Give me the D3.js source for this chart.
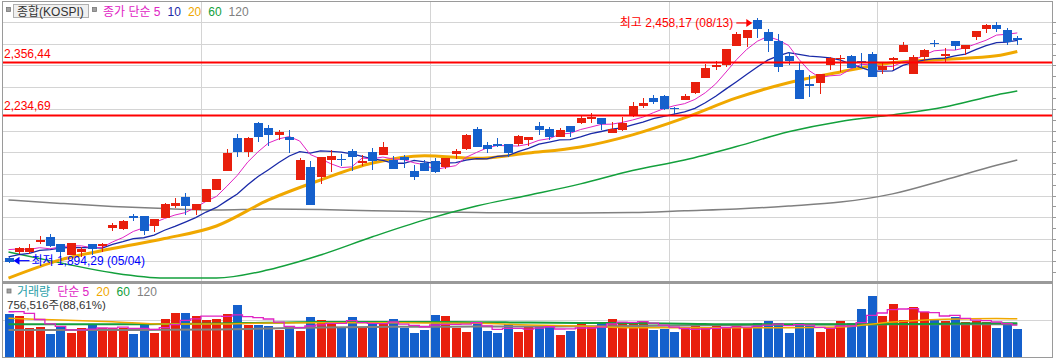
<!DOCTYPE html>
<html>
<head>
<meta charset="utf-8">
<script src="https://cdn.jsdelivr.net/npm/d3@7"></script>
<style>
body { margin: 0; background: #fff; }
svg { display: block; font-family: "Liberation Sans", "Noto Sans CJK KR", sans-serif; }
</style>
</head>
<body>
<div id="chart"></div>
<script>
// ---------------- 데이터 ----------------
var opens  = [1906,1919,1921,1943,1955,1938,1913,1919,1938,1933, 1976,1972,2004,2003,1980,1999,2026,2046,2017,2036,
              2063,2107,2183,2151,2218,2205,2189,2184,2086,2117, 2092,2132,2135,2153,2126,2150,2144,2132,2139,2107,
              2126,2130,2115,2146,2157,2203,2166,2170,2170,2170, 2177,2210,2203,2186,2210,2218,2227,2228,2195,2201,
              2235,2256,2276,2280,2252,2270,2287,2322,2347,2351, 2395,2414,2454,2428,2407,2372,2339,2306,2309,2351,
              2364,2372,2361,2376,2339,2362,2382,2330,2369,2402, 2372,2406,2388,2416,2433,2443,2432,2413];
var highs  = [1908,1932,1938,1957,1962,1939,1941,1932,1939,1940, 1986,1994,2007,2004,1997,2032,2044,2055,2031,2066,
              2089,2157,2192,2184,2219,2213,2201,2201,2136,2130, 2139,2155,2146,2157,2144,2159,2173,2142,2144,2121,
              2132,2137,2136,2157,2192,2209,2174,2182,2170,2190, 2185,2219,2209,2205,2210,2236,2241,2229,2219,2230,
              2266,2275,2282,2281,2253,2283,2312,2353,2360,2388, 2428,2432,2458.17,2435,2422,2382,2358,2328,2331,2370,
              2374,2374,2378,2381,2355,2370,2403,2374,2388,2409, 2389,2406,2397,2429,2445,2449,2436,2417];
var lows   = [1894.29,1915,1915,1938,1932,1908,1912,1909,1913,1921, 1969,1970,1992,1959,1967,1998,2021,2005,2005,2035,
              2062,2106,2140,2139,2174,2165,2178,2148,2085,2028, 2077,2105,2118,2107,2118,2109,2143,2111,2114,2086,
              2107,2101,2111,2135,2156,2163,2149,2161,2140,2164, 2164,2190,2178,2185,2184,2215,2217,2201,2195,2200,
              2232,2251,2261,2248,2236,2270,2284,2322,2339,2347, 2395,2393,2413,2382,2335,2351,2272,2278,2284,2339,
              2335,2343,2343,2324,2330,2339,2381,2330,2360,2393, 2355,2385,2374,2408,2424,2428,2398,2396];
var closes = [1897,1929,1929,1948,1934,1920,1941,1928,1927,1938, 1982,1992,1998,1969,1996,2031,2032,2026,2030,2065,
              2088,2149,2151,2183,2184,2189,2197,2177,2132,2029, 2138,2141,2133,2140,2130,2130,2161,2111,2132,2094,
              2107,2105,2136,2153,2190,2163,2157,2165,2149,2187, 2185,2201,2184,2201,2197,2228,2230,2215,2203,2217,
              2256,2263,2266,2249,2251,2280,2312,2343,2351,2388, 2422,2432,2435,2407,2347,2359,2272,2303,2330,2366,
              2368,2343,2355,2324,2349,2366,2397,2370,2385,2400, 2376,2395,2397,2429,2443,2435,2405,2412];
// 거래량 (천주)
var volumes = [1162000,1108000,784000,811000,622000,811000,649000,784000,892000,784000,
               784000,784000,622000,892000,649000,1027000,1189000,1189000,1108000,1000000,
               1027000,1162000,1405000,865000,865000,838000,730000,838000,703000,1081000,
               1000000,928000,820000,1081000,820000,901000,901000,1027000,784000,649000,
               730000,1135000,1108000,784000,676000,928000,703000,649000,901000,676000,
               838000,838000,838000,595000,703000,946000,838000,946000,1027000,946000,
               919000,946000,730000,757000,676000,745000,838000,784000,838000,784000,
               838000,784000,919000,973000,919000,649000,919000,838000,676000,784000,
               973000,919000,1297000,1649000,1108000,1432000,1000000,1351000,1216000,1000000,
               973000,1081000,946000,973000,946000,784000,853763,756516];

// 화면 이전 구간 (추정)
var prevCloses  = [1880,1898,1880,1914,1889,1922,1934,1928,1947];
var prevVolumes = [1100000,1000000,1650000,1200000];

// 장기 이동평균 (그림에서 읽은 값, maIdx 위치)
var maIdx   = [0,5,10,15,20,25,30,35,40,45,50,55,60,65,70,75,80,85,90,95,97];
var ma20    = [1860,1902,1928,1951,1980,2040,2086,2125,2142,2136,2148,2162,2190,2229,2275,2310,2335,2356,2364,2372,2382];
var ma60    = [1920,1895,1872,1860,1860,1879,1913,1955,1994,2026,2051,2077,2108,2132,2163,2197,2221,2236,2254,2282,2291];
var ma120   = [2040,2032,2025,2020,2017,2019,2018,2015,2013,2011,2010,2010,2011,2015,2019,2026,2035,2054,2086,2120,2132];
var volMa20 = [1046000,1000000,954000,892000,892000,919000,927000,927000,919000,911000,865000,838000,792000,792000,792000,792000,810000,946000,1019000,1043000,1036000];
var volMa60 = [884000,884000,884000,890000,905000,925000,946000,946000,946000,940000,932000,920000,911000,900000,884000,884000,884000,890000,900000,911000,911000];
var volMa120= [730000,730000,730000,735000,743000,770000,797000,810000,819000,822000,824000,830000,838000,850000,865000,872000,878000,882000,884000,884000,884000];

var refLines = [2356.44, 2234.69];
var monthStartIdx = [19, 41, 64, 84];
var lowDate = "05/04", highDate = "08/13";
var priceLegend = ["종가 단순 5", "10", "20", "60", "120"];
var volLegend = ["단순 5", "20", "60", "120"];

// ---------------- 설정 ----------------
var W = 1056, H = 359;
var left = 2.5, right = 1052.5;
var pTop = 1.5, pBot = 282, vTop = 283, vBot = 357.5;
var upColor = "#e81f0d", downColor = "#1560cc";
var priceColors = ["#e024c4", "#1a2aa8", "#f0a800", "#13a03c", "#808080"];
var volColors = ["#e024c4", "#f0a800", "#13a03c", "#808080"];

var fmt = d3.formatLocale({decimal: ",", thousands: ",", grouping: [3], currency: ["", ""]});
var fmtPrice = fmt.format(",.2f");
var fmtVol = fmt.format(",d");

var svg = d3.select("#chart").append("svg").attr("width", W).attr("height", H);

var x = d3.scaleLinear().domain([0, closes.length - 1]).range([8.5, 1017.3]);
var yP = d3.scaleLinear().domain([1900, 2450]).range([260.7, 22]);
var yV = d3.scaleLinear().domain([0, 2000000]).range([357, 283]);

function movingAvg(vals, prev, n) {
  var all = prev.concat(vals);
  return vals.map(function(v, i) {
    var j = i + prev.length;
    return d3.mean(all.slice(j - n + 1, j + 1));
  });
}
var ma5 = movingAvg(closes, prevCloses, 5);
var ma10 = movingAvg(closes, prevCloses, 10);
var volMa5 = movingAvg(volumes, prevVolumes, 5);

var candles = d3.range(closes.length).map(function(i) {
  return {i: i, o: opens[i], h: highs[i], l: lows[i], c: closes[i], v: volumes[i], up: closes[i] >= opens[i]};
});

// clip
var defs = svg.append("defs");
defs.append("clipPath").attr("id", "clipP").append("rect")
  .attr("x", left).attr("y", pTop).attr("width", right - left).attr("height", pBot - pTop);
defs.append("clipPath").attr("id", "clipV").append("rect")
  .attr("x", left).attr("y", vTop).attr("width", right - left).attr("height", vBot - vTop);

// ---------------- 격자 ----------------
var grid = svg.append("g").attr("shape-rendering", "crispEdges");
grid.selectAll(".hp").data(d3.range(1900, 2451, 50)).enter().append("line")
  .attr("x1", left).attr("x2", right)
  .attr("y1", function(d) { return Math.round(yP(d)) + 0.5; })
  .attr("y2", function(d) { return Math.round(yP(d)) + 0.5; })
  .attr("stroke", "#d4d4d4");
grid.selectAll(".hv").data([1000000]).enter().append("line")
  .attr("x1", left).attr("x2", right)
  .attr("y1", function(d) { return Math.round(yV(d)) + 0.5; })
  .attr("y2", function(d) { return Math.round(yV(d)) + 0.5; })
  .attr("stroke", "#d4d4d4");
grid.selectAll(".vl").data(monthStartIdx).enter().append("line")
  .attr("x1", function(d) { return Math.round(x(d) - 5.2) + 0.5; })
  .attr("x2", function(d) { return Math.round(x(d) - 5.2) + 0.5; })
  .attr("y1", pTop).attr("y2", vBot)
  .attr("stroke", "#d4d4d4");

// 오른쪽 눈금
grid.selectAll(".tk").data(d3.range(1875, 2451, 25)).enter().append("line")
  .attr("x1", right).attr("x2", W)
  .attr("y1", function(d) { return Math.round(yP(d)) + 0.5; })
  .attr("y2", function(d) { return Math.round(yP(d)) + 0.5; })
  .attr("stroke", "#999");

// ---------------- 이동평균선 (가격) ----------------
var gMA = svg.append("g").attr("clip-path", "url(#clipP)").attr("fill", "none");
var lineFull = d3.line().x(function(d, i) { return x(i); }).y(function(d) { return yP(d); });
var lineSample = d3.line().curve(d3.curveMonotoneX)
  .x(function(d, k) { return x(maIdx[k]); }).y(function(d) { return yP(d); });

gMA.append("path").attr("d", lineSample(ma120)).attr("stroke", priceColors[4]).attr("stroke-width", 1.5);
gMA.append("path").attr("d", lineSample(ma60)).attr("stroke", priceColors[3]).attr("stroke-width", 1.5);
gMA.append("path").attr("d", lineSample(ma20)).attr("stroke", priceColors[2]).attr("stroke-width", 3);
gMA.append("path").attr("d", lineFull(ma10)).attr("stroke", priceColors[1]).attr("stroke-width", 1.3);
gMA.append("path").attr("d", lineFull(ma5)).attr("stroke", priceColors[0]).attr("stroke-width", 1);

// ---------------- 캔들 ----------------
var gC = svg.append("g").attr("shape-rendering", "crispEdges");
gC.selectAll(".wick").data(candles).enter().append("line")
  .attr("x1", function(d) { return Math.round(x(d.i)) + 0.5; })
  .attr("x2", function(d) { return Math.round(x(d.i)) + 0.5; })
  .attr("y1", function(d) { return yP(d.h); })
  .attr("y2", function(d) { return yP(d.l); })
  .attr("stroke", function(d) { return d.up ? upColor : downColor; });
gC.selectAll(".body").data(candles).enter().append("rect")
  .attr("x", function(d) { return Math.round(x(d.i)) - 4; })
  .attr("width", 9)
  .attr("y", function(d) { return yP(Math.max(d.o, d.c)); })
  .attr("height", function(d) { return Math.max(1.5, Math.abs(yP(d.o) - yP(d.c))); })
  .attr("fill", function(d) { return d.up ? upColor : downColor; });

// ---------------- 기준선 ----------------
var gRef = svg.append("g");
gRef.selectAll("line").data(refLines).enter().append("line")
  .attr("x1", left).attr("x2", right)
  .attr("y1", function(d) { return yP(d); })
  .attr("y2", function(d) { return yP(d); })
  .attr("stroke", "#ff0000").attr("stroke-width", 2);
gRef.selectAll("text").data(refLines).enter().append("text")
  .attr("x", 4).attr("y", function(d) { return yP(d) - 5; })
  .attr("fill", "#ff0000").attr("font-size", 12)
  .text(function(d) { return fmtPrice(d); });

// ---------------- 최고 / 최저 표시 ----------------
var hi = d3.maxIndex(highs), lo = d3.minIndex(lows);
var hx = x(hi) - 5, hy = yP(highs[hi]) + 4.5;
svg.append("line").attr("x1", hx - 16).attr("x2", hx - 5).attr("y1", hy).attr("y2", hy)
  .attr("stroke", "#ff0000").attr("stroke-width", 1.2);
svg.append("path").attr("d", "M" + hx + "," + hy + "L" + (hx - 6) + "," + (hy - 4) + "L" + (hx - 6) + "," + (hy + 4) + "Z")
  .attr("fill", "#ff0000");
svg.append("text").attr("x", hx - 19).attr("y", hy + 4).attr("text-anchor", "end")
  .attr("fill", "#ff0000").attr("font-size", 12)
  .text("최고 " + fmtPrice(highs[hi]) + " (" + highDate + ")");

var lx = x(lo) + 5, ly = yP(lows[lo]) - 2.5;
svg.append("path").attr("d", "M" + lx + "," + ly + "L" + (lx + 6) + "," + (ly - 4) + "L" + (lx + 6) + "," + (ly + 4) + "Z")
  .attr("fill", "#0000ff");
svg.append("line").attr("x1", lx + 5).attr("x2", lx + 16).attr("y1", ly).attr("y2", ly)
  .attr("stroke", "#0000ff").attr("stroke-width", 1.2);
svg.append("text").attr("x", lx + 18).attr("y", ly + 4.5)
  .attr("fill", "#0000ff").attr("font-size", 12)
  .text("최저 " + fmtPrice(lows[lo]) + " (" + lowDate + ")");

// ---------------- 거래량 ----------------
var gV = svg.append("g").attr("shape-rendering", "crispEdges");
gV.selectAll("rect").data(candles).enter().append("rect")
  .attr("x", function(d) { return Math.round(x(d.i)) - 4; })
  .attr("width", 9)
  .attr("y", function(d) { return yV(d.v); })
  .attr("height", function(d) { return yV(0) - yV(d.v); })
  .attr("fill", function(d) { return d.up ? upColor : downColor; });

var gVM = svg.append("g").attr("clip-path", "url(#clipV)").attr("fill", "none");
var vSample = d3.line().curve(d3.curveMonotoneX)
  .x(function(d, k) { return x(maIdx[k]); }).y(function(d) { return yV(d); });
var vFull = d3.line().curve(d3.curveStep)
  .x(function(d, i) { return x(i); }).y(function(d) { return yV(d); });
gVM.append("path").attr("d", vSample(volMa120)).attr("stroke", volColors[3]).attr("stroke-width", 2);
gVM.append("path").attr("d", vSample(volMa60)).attr("stroke", volColors[2]).attr("stroke-width", 2);
gVM.append("path").attr("d", vSample(volMa20)).attr("stroke", volColors[1]).attr("stroke-width", 1.5);
gVM.append("path").attr("d", vFull(volMa5)).attr("stroke", volColors[0]).attr("stroke-width", 1.3);

// ---------------- 테두리 ----------------
var frame = svg.append("g").attr("fill", "none").attr("stroke", "#9a9a9a").attr("shape-rendering", "crispEdges");
frame.append("rect").attr("x", left).attr("y", pTop).attr("width", right - left).attr("height", pBot - pTop).attr("stroke-width", 1.5);
frame.append("rect").attr("x", left).attr("y", vTop).attr("width", right - left).attr("height", vBot - vTop).attr("stroke-width", 1.5);

// ---------------- 범례 ----------------
function square(g, sx, sy) {
  g.append("rect").attr("x", sx).attr("y", sy).attr("width", 4).attr("height", 4)
    .attr("fill", "#a0a0a0").attr("stroke", "#777").attr("stroke-width", 0.8);
}
var leg = svg.append("g").attr("font-size", 12);
square(leg, 6.5, 7.5);
leg.append("rect").attr("x", 13.5).attr("y", 4.5).attr("width", 75).attr("height", 13)
  .attr("fill", "#f0f0f0").attr("stroke", "#b0b0b0");
leg.append("text").attr("x", 17).attr("y", 15.5).attr("fill", "#333").text("종합(KOSPI)");
square(leg, 92.5, 7.5);
var lx0 = 103;
priceLegend.forEach(function(t, k) {
  var tx = leg.append("text").attr("x", lx0).attr("y", 15.5).attr("fill", priceColors[k]).text(t);
  lx0 += tx.node().getComputedTextLength() + 7;
});

square(leg, 7, 289);
var vx0 = 17;
var vt = leg.append("text").attr("x", vx0).attr("y", 296).attr("fill", "#2aa0a8").text("거래량");
vx0 += vt.node().getComputedTextLength() + 7;
volLegend.forEach(function(t, k) {
  var tx = leg.append("text").attr("x", vx0).attr("y", 296).attr("fill", volColors[k]).text(t);
  vx0 += tx.node().getComputedTextLength() + 7;
});
var last = volumes[volumes.length - 1], prev = volumes[volumes.length - 2];
leg.append("text").attr("x", 7).attr("y", 308.5).attr("font-size", 11.5).attr("fill", "#333")
  .text(fmtVol(last) + "주(" + fmtPrice(last / prev * 100) + "%)");
</script>
</body>
</html>
